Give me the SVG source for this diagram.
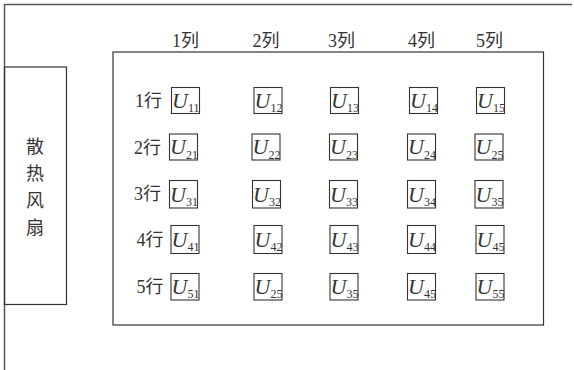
<svg xmlns="http://www.w3.org/2000/svg" width="574" height="370" viewBox="0 0 574 370">
<style>
.frame{fill:none;stroke:#555;stroke-width:1.5}
.box{fill:none;stroke:#333;stroke-width:1.2}
.cell{fill:#fff;stroke:#333;stroke-width:1.1}
.lbl{font-family:"Liberation Serif","Noto Sans CJK SC",serif;font-size:18px;fill:#333}
.u{font-family:"Liberation Serif",serif;font-size:22px;font-style:italic;fill:#333}
.sub{font-size:12px;font-style:normal}
</style>
<rect width="574" height="370" fill="#fff"/>
<g id="frame">
<polyline class="frame" points="4.5,370 4.5,4.5 572,4.5"/>
</g>
<g id="fan">
<rect class="box" x="4.5" y="67" width="62" height="237.5"/>
<text class="lbl" x="35" y="153" text-anchor="middle">散</text>
<text class="lbl" x="35" y="180" text-anchor="middle">热</text>
<text class="lbl" x="35" y="207" text-anchor="middle">风</text>
<text class="lbl" x="35" y="234" text-anchor="middle">扇</text>
</g>
<g id="board">
<rect class="box" x="113" y="52" width="430.5" height="273"/>
</g>
<g id="cols">
<text class="lbl" x="172" y="47">1列</text>
<text class="lbl" x="252.5" y="47">2列</text>
<text class="lbl" x="328" y="47">3列</text>
<text class="lbl" x="408" y="47">4列</text>
<text class="lbl" x="476" y="47">5列</text>
</g>
<g id="rows">
<text class="lbl" x="135" y="107">1行</text>
<text class="lbl" x="134" y="154">2行</text>
<text class="lbl" x="134" y="200">3行</text>
<text class="lbl" x="136.5" y="246">4行</text>
<text class="lbl" x="136.5" y="293">5行</text>
</g>
<g id="cells">
<g id="U11"><rect class="cell" x="171.5" y="87.5" width="28" height="26"/><text class="u" x="172" y="107.5">U<tspan class="sub" dy="4.5">11</tspan></text></g>
<g id="U12"><rect class="cell" x="254" y="87.5" width="28" height="26"/><text class="u" x="254.5" y="107.5">U<tspan class="sub" dy="4.5">12</tspan></text></g>
<g id="U13"><rect class="cell" x="330.5" y="87.5" width="28" height="26"/><text class="u" x="331" y="107.5">U<tspan class="sub" dy="4.5">13</tspan></text></g>
<g id="U14"><rect class="cell" x="409.5" y="87.5" width="28" height="26"/><text class="u" x="410" y="107.5">U<tspan class="sub" dy="4.5">14</tspan></text></g>
<g id="U15"><rect class="cell" x="476.5" y="87.5" width="28" height="26"/><text class="u" x="477" y="107.5">U<tspan class="sub" dy="4.5">15</tspan></text></g>

<g id="U21"><rect class="cell" x="169.5" y="134" width="28" height="26"/><text class="u" x="170" y="154">U<tspan class="sub" dy="4.5">21</tspan></text></g>
<g id="U22"><rect class="cell" x="252" y="134" width="28" height="26"/><text class="u" x="252.5" y="154">U<tspan class="sub" dy="4.5">22</tspan></text></g>
<g id="U23"><rect class="cell" x="329.5" y="134" width="28" height="26"/><text class="u" x="330" y="154">U<tspan class="sub" dy="4.5">23</tspan></text></g>
<g id="U24"><rect class="cell" x="407.5" y="134" width="28" height="26"/><text class="u" x="408" y="154">U<tspan class="sub" dy="4.5">24</tspan></text></g>
<g id="U25a"><rect class="cell" x="475" y="134" width="28" height="26"/><text class="u" x="475.5" y="154">U<tspan class="sub" dy="4.5">25</tspan></text></g>

<g id="U31"><rect class="cell" x="169.5" y="180.5" width="28" height="27.5"/><text class="u" x="170" y="201.5">U<tspan class="sub" dy="4.5">31</tspan></text></g>
<g id="U32"><rect class="cell" x="252.5" y="180.5" width="28" height="27.5"/><text class="u" x="253" y="201.5">U<tspan class="sub" dy="4.5">32</tspan></text></g>
<g id="U33"><rect class="cell" x="329.5" y="180.5" width="28" height="27.5"/><text class="u" x="330" y="201.5">U<tspan class="sub" dy="4.5">33</tspan></text></g>
<g id="U34"><rect class="cell" x="407.5" y="180.5" width="28" height="27.5"/><text class="u" x="408" y="201.5">U<tspan class="sub" dy="4.5">34</tspan></text></g>
<g id="U35a"><rect class="cell" x="475" y="180.5" width="28" height="27.5"/><text class="u" x="475.5" y="201.5">U<tspan class="sub" dy="4.5">35</tspan></text></g>

<g id="U41"><rect class="cell" x="171" y="225.5" width="28" height="28"/><text class="u" x="171.5" y="246.5">U<tspan class="sub" dy="4.5">41</tspan></text></g>
<g id="U42"><rect class="cell" x="254" y="225.5" width="28" height="28"/><text class="u" x="254.5" y="246.5">U<tspan class="sub" dy="4.5">42</tspan></text></g>
<g id="U43"><rect class="cell" x="330" y="225.5" width="28" height="28"/><text class="u" x="330.5" y="246.5">U<tspan class="sub" dy="4.5">43</tspan></text></g>
<g id="U44"><rect class="cell" x="407.5" y="225.5" width="28" height="28"/><text class="u" x="408" y="246.5">U<tspan class="sub" dy="4.5">44</tspan></text></g>
<g id="U45a"><rect class="cell" x="476" y="225.5" width="28" height="28"/><text class="u" x="476.5" y="246.5">U<tspan class="sub" dy="4.5">45</tspan></text></g>

<g id="U51"><rect class="cell" x="171" y="273.5" width="28" height="26.5"/><text class="u" x="171.5" y="293.5">U<tspan class="sub" dy="4.5">51</tspan></text></g>
<g id="U25b"><rect class="cell" x="254" y="273.5" width="28" height="26.5"/><text class="u" x="254.5" y="293.5">U<tspan class="sub" dy="4.5">25</tspan></text></g>
<g id="U35b"><rect class="cell" x="330" y="273.5" width="28" height="26.5"/><text class="u" x="330.5" y="293.5">U<tspan class="sub" dy="4.5">35</tspan></text></g>
<g id="U45b"><rect class="cell" x="407.5" y="273.5" width="28" height="26.5"/><text class="u" x="408" y="293.5">U<tspan class="sub" dy="4.5">45</tspan></text></g>
<g id="U55"><rect class="cell" x="476" y="273.5" width="28" height="26.5"/><text class="u" x="476.5" y="293.5">U<tspan class="sub" dy="4.5">55</tspan></text></g>
</g>
<g id="connectors"/>
</svg>
